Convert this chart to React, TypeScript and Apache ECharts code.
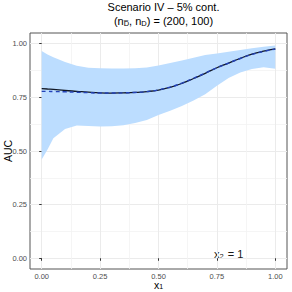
import React, { useEffect, useRef } from "react";
import * as echarts from "echarts";

const xs = [0, 0.025, 0.05, 0.1, 0.15, 0.2, 0.25, 0.3, 0.35, 0.4, 0.45, 0.5, 0.55, 0.6, 0.65, 0.7, 0.75, 0.8, 0.85, 0.9, 0.95, 1.0];
const upper = [0.966, 0.95, 0.937, 0.915, 0.897, 0.888, 0.886, 0.885, 0.885, 0.886, 0.889, 0.898, 0.91, 0.922, 0.935, 0.947, 0.955, 0.963, 0.971, 0.979, 0.986, 0.992];
const lower = [0.46, 0.507, 0.56, 0.603, 0.619, 0.617, 0.614, 0.615, 0.62, 0.63, 0.645, 0.668, 0.688, 0.71, 0.735, 0.765, 0.804, 0.84, 0.866, 0.882, 0.89, 0.883];
const estimate = [0.791, 0.789, 0.787, 0.782, 0.778, 0.774, 0.771, 0.77, 0.771, 0.773, 0.777, 0.784, 0.797, 0.815, 0.838, 0.862, 0.888, 0.91, 0.932, 0.951, 0.965, 0.976];
const truth = [0.778, 0.778, 0.777, 0.776, 0.774, 0.772, 0.77, 0.77, 0.771, 0.773, 0.777, 0.785, 0.798, 0.816, 0.839, 0.863, 0.888, 0.91, 0.931, 0.95, 0.964, 0.975];
const majorTicks = [0, 0.25, 0.5, 0.75, 1];
const minorTicks = [0.125, 0.375, 0.625, 0.875];

const FONT = "Liberation Sans";

export default function App() {
  const ref = useRef<HTMLDivElement>(null);
  useEffect(() => {
    const chart = echarts.init(ref.current!, null, { renderer: "svg" });
    const majorAxis = (name: string, nameGap: number, isY: boolean) => ({
      type: "value",
      min: -0.05,
      max: 1.05,
      name,
      nameLocation: "middle",
      nameGap,
      nameMoveOverlap: false,
      nameRotate: isY ? 90 : 0,
      nameTextStyle: {
        fontFamily: FONT, fontSize: 10.5, color: "#000", lineHeight: 11,
        rich: {
          n: { fontFamily: FONT, fontSize: 10.5, color: "#000", lineHeight: 10 },
          sub: { fontFamily: FONT, fontSize: 7, color: "#000", padding: [3, 0, 0, 0], lineHeight: 7 },
        },
      },
      axisLine: { show: false },
      axisTick: { show: true, customValues: majorTicks, length: 2.5, lineStyle: { color: "#333", width: 1 } },
      axisLabel: {
        show: true,
        customValues: majorTicks,
        formatter: (v: number) => v.toFixed(2),
        fontFamily: FONT,
        fontSize: 7.5,
        lineHeight: 8,
        color: "#4d4d4d",
        margin: 3,
      },
      splitLine: { show: true, lineStyle: { color: "#EBEBEB", width: 1 } },
    });
    const minorAxis = () => ({
      type: "value",
      min: -0.05,
      max: 1.05,
      axisLine: { show: false },
      axisTick: { show: false, customValues: minorTicks },
      axisLabel: { show: false, customValues: minorTicks },
      splitLine: { show: true, lineStyle: { color: "#F2F2F2", width: 0.8 } },
    });
    const pairs = (ys: number[]) => xs.map((x, i) => [x, ys[i]]);
    chart.setOption({
      animation: false,
      grid: {
        left: 30, right: 5, top: 33, bottom: 23, show: true, borderColor: "#555", borderWidth: 1,
        backgroundColor: "transparent", containLabel: false, outerBoundsMode: "none",
      },
      xAxis: [majorAxis("{n|x}{sub|1}", 11, false), minorAxis()],
      yAxis: [majorAxis("AUC", 17, true), minorAxis()],
      title: {
        text: "Scenario IV \u2013 5% cont.\n{n|(n}{sub|D\u0305}{n|, n}{sub|D}{n|) = (200, 100)}",
        left: 158.5,
        textAlign: "center",
        top: -5,
        textStyle: {
          fontFamily: FONT,
          fontSize: 11,
          fontWeight: "normal",
          color: "#000",
          lineHeight: 14,
          rich: {
            n: { fontFamily: FONT, fontSize: 11, color: "#000", lineHeight: 14 },
            sub: { fontFamily: FONT, fontSize: 7.5, color: "#000", padding: [5, 0, 0, 0], lineHeight: 9 },
          },
        },
      },
      graphic: [
        {
          type: "text",
          left: 214,
          top: 248,
          style: {
            text: "{n|x}{sub|2}{n| = 1}",
            rich: {
              n: { fontFamily: FONT, fontSize: 11, fill: "#1a1a1a", lineHeight: 13 },
              sub: { fontFamily: FONT, fontSize: 7.5, fill: "#1a1a1a", padding: [4, 1, 0, 0], lineHeight: 9 },
            },
          },
        },
      ],
      series: [
        {
          type: "custom",
          data: xs.map((x, i) => [x, lower[i], upper[i]]),
          silent: true,
          z: 1,
          renderItem: (params: any, api: any) => {
            if (params.dataIndex !== 0) return null;
            const top = xs.map((x, i) => api.coord([x, upper[i]]));
            const bot = xs.map((x, i) => api.coord([x, lower[i]])).reverse();
            return {
              type: "polygon",
              shape: { points: top.concat(bot) },
              style: { fill: "#BCDDFF" },
            };
          },
          encode: { x: 0, y: [1, 2] },
        },
        {
          type: "line",
          data: pairs(estimate),
          symbol: "none",
          smooth: true,
          z: 3,
          lineStyle: { color: "#111827", width: 1.3 },
        },
        {
          type: "line",
          data: pairs(truth),
          symbol: "none",
          smooth: true,
          z: 4,
          lineStyle: { color: "#2342B8", width: 1.4, type: [4, 3] },
        },
      ],
    });
    return () => chart.dispose();
  }, []);
  return <div ref={ref} style={{ width: 292, height: 292, position: "absolute", left: 0, top: 0 }} />;
}
